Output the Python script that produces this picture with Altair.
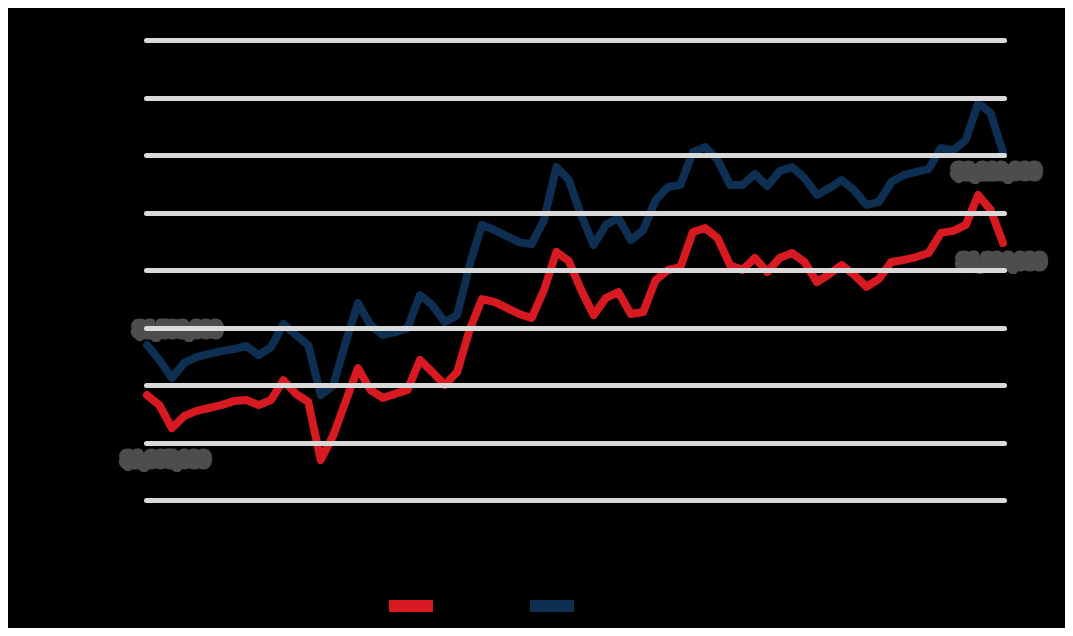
import altair as alt
import pandas as pd

series_names = ["Series A", "Series B"]
colors = ["#d71a21", "#0e2f52"]

blue_values = [
    1539, 1487, 1424, 1477, 1497, 1508, 1518, 1525, 1536, 1504,
    1532, 1612, 1574, 1539, 1365, 1397, 1546, 1685, 1609, 1574,
    1584, 1598, 1713, 1678, 1619, 1643, 1817, 1957, 1939, 1918,
    1897, 1890, 1974, 2158, 2113, 1991, 1887, 1957, 1981, 1904,
    1939, 2043, 2089, 2096, 2210, 2228, 2183, 2096, 2096, 2134,
    2092, 2144, 2158, 2120, 2061, 2085, 2113, 2078, 2026, 2037,
    2106, 2130, 2141, 2151, 2224, 2217, 2252, 2381, 2346, 2210,
]
red_values = [
    1365, 1330, 1250, 1292, 1310, 1320, 1330, 1344, 1348, 1330,
    1348, 1417, 1369, 1341, 1139, 1223, 1341, 1459, 1383, 1355,
    1369, 1383, 1487, 1445, 1400, 1445, 1591, 1699, 1689, 1668,
    1647, 1633, 1730, 1863, 1831, 1730, 1643, 1703, 1723, 1647,
    1654, 1765, 1800, 1810, 1932, 1946, 1911, 1817, 1800, 1842,
    1793, 1842, 1859, 1828, 1758, 1786, 1817, 1783, 1741, 1769,
    1828, 1835, 1845, 1859, 1929, 1936, 1957, 2061, 2009, 1894,
]
periods = list(range(len(blue_values)))
y_ticks = [1000, 1200, 1400, 1600, 1800, 2000, 2200, 2400, 2600]

rows = []
for p, v in zip(periods, red_values):
    rows.append({"idx": p, "series": series_names[0], "value": v})
for p, v in zip(periods, blue_values):
    rows.append({"idx": p, "series": series_names[1], "value": v})
df = pd.DataFrame(rows)

last = periods[-1]

lines = alt.Chart(df).mark_line(
    strokeWidth=8, strokeCap="round", strokeJoin="round"
).encode(
    x=alt.X("idx:Q", scale=alt.Scale(domain=[periods[0], last], nice=False, padding=1), axis=None),
    y=alt.Y(
        "value:Q",
        scale=alt.Scale(domain=[y_ticks[0], y_ticks[-1]], nice=False),
        axis=alt.Axis(
            values=y_ticks, grid=True, gridColor="#d9d9d9", gridWidth=5, gridCap="round",
            domain=False, ticks=False, labelColor="black", labelPadding=24, title=None, zindex=1,
        ),
    ),
    color=alt.Color(
        "series:N",
        scale=alt.Scale(domain=series_names, range=colors),
        legend=alt.Legend(
            orient="none", legendX=237, legendY=538, direction="horizontal",
            symbolType="stroke", symbolSize=1936, symbolStrokeWidth=12,
            labelColor="black", labelFontSize=14, title=None, columnPadding=10,
        ),
    ),
)


def label(series, idx, dx, dy):
    return alt.Chart(df).transform_filter(
        (alt.datum.series == series) & (alt.datum.idx == idx)
    ).transform_calculate(
        label="'$' + format(datum.value * 1000, ',.0f')"
    ).mark_text(
        align="left", baseline="middle", dx=dx, dy=dy, fontSize=17, fontWeight="bold",
        font="Liberation Sans", fill="#1a1a1a", stroke="#4d4d4d", strokeWidth=9,
        strokeJoin="round",
    ).encode(x="idx:Q", y="value:Q", text="label:N")


chart = alt.layer(
    lines,
    label(series_names[1], 0, -12, -15),
    label(series_names[0], 0, -24, 65),
    label(series_names[1], last, -49, 20),
    label(series_names[0], last, -44, 19),
).properties(
    width=858, height=460,
    autosize=alt.AutoSizeParams(type="none"),
    padding={"left": 138, "top": 32, "right": 61, "bottom": 128},
    background="black",
).configure_view(stroke=None)

chart.save("out.html", embed_options={"renderer": "svg", "actions": False})
